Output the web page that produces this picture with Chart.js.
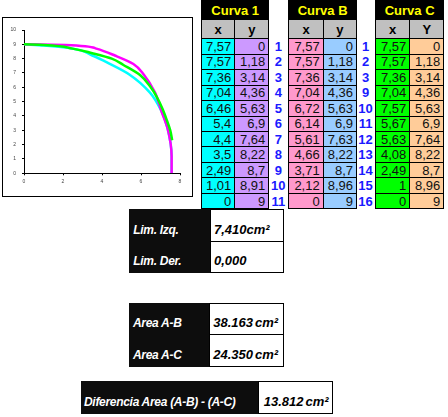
<!DOCTYPE html>
<html>
<head>
<meta charset="utf-8">
<script src="https://cdn.jsdelivr.net/npm/chart.js@4.4.1/dist/chart.umd.min.js"></script>
<style>
  html, body { margin: 0; padding: 0; background: #fff; }
  body { width: 448px; height: 417px; position: relative; overflow: hidden;
         font-family: "Liberation Sans Narrow", "Liberation Sans", Arial, sans-serif; }
  #chartBox { position: absolute; left: 2px; top: 17px; width: 191px; height: 180px;
              border: 1px solid #000; box-sizing: border-box; }
  #chart { position: absolute; left: 0; top: 0; }
  .cell { position: absolute; box-sizing: border-box; border: 1px solid #000;
          font-size: 13px; display: flex; align-items: center; white-space: nowrap; }
  .num { justify-content: flex-end; padding-right: 3px; color: #111; }
  .hd { justify-content: center; font-weight: bold; background: #000; color: #ffff00; font-size: 13px; }
  .sub { justify-content: center; font-weight: bold; background: #c0c0c0; color: #000; }
  .idx { position: absolute; color: #1a1aff; font-weight: bold; font-size: 13px;
         display: flex; align-items: center; justify-content: center; }
  .lab { position: absolute; box-sizing: border-box; background: #0d0d0d; color: #fff;
         font-weight: bold; font-style: italic; font-size: 12px; letter-spacing: -0.3px;
         display: flex; align-items: flex-end; padding-bottom: 5px; white-space: nowrap; }
  .val { position: absolute; box-sizing: border-box; border: 1px solid #000; background: #fff;
         color: #000; font-weight: bold; font-style: italic; font-size: 13px; display: flex;
         align-items: flex-end; padding-bottom: 4px; padding-left: 3px; white-space: nowrap; }
  .val span { margin-left: 2px; }
</style>
</head>
<body>
<div id="chartBox"></div>
<canvas id="chart" width="200" height="200"></canvas>
<div id="tables"></div>
<script>
// Tablas (valores de la hoja)
const curva1X = [7.57, 7.57, 7.36, 7.04, 6.46, 5.4, 4.4, 3.5, 2.49, 1.01, 0];
const curva1Y = [0, 1.18, 3.14, 4.36, 5.63, 6.9, 7.64, 8.22, 8.7, 8.91, 9];
const curvaBX = [7.57, 7.57, 7.36, 7.04, 6.72, 6.14, 5.61, 4.66, 3.71, 2.12, 0];
const curvaBY = [0, 1.18, 3.14, 4.36, 5.63, 6.9, 7.63, 8.22, 8.7, 8.96, 9];
const curvaCX = [7.57, 7.57, 7.36, 7.04, 7.57, 5.67, 5.63, 4.08, 2.49, 1, 0];
const curvaCY = [0, 1.18, 3.14, 4.36, 5.63, 6.9, 7.64, 8.22, 8.7, 8.96, 9];
const indice1 = [1, 2, 3, 4, 5, 6, 7, 8, 9, 10, 11];
const indiceB = [1, 2, 3, 9, 10, 11, 12, 13, 14, 15, 16];

// Curva verde tal como aparece en el grafico
const verdeX = [7.6, 7.5, 7.32, 7.1, 6.8, 6.5, 5.95, 5.1, 4.5, 3.5, 2.49, 1, 0];
const verdeY = [2.3, 3.0, 3.72, 4.5, 5.35, 6.0, 6.86, 7.56, 8.0, 8.38, 8.7, 8.96, 9];

// Resultados
const limIzq = '7,410';
const limDer = '0,000';
const areaAB = '38.163';
const areaAC = '24.350';
const diferencia = '13.812';

const xTicks = [0, 2, 4, 6, 8];

function pts(xs, ys) {
  return xs.map((x, i) => ({ x: x, y: ys[i] }));
}
function fmt(v) {
  return String(v).replace('.', ',');
}

const lineStyle = { showLine: true, indexAxis: 'y', cubicInterpolationMode: 'monotone', borderWidth: 2.5, pointRadius: 0 };

// Grafico
const ctx = document.getElementById('chart').getContext('2d');
new Chart(ctx, {
  type: 'scatter',
  data: {
    datasets: [
      Object.assign({ label: 'Curva C', data: pts(verdeX, verdeY), borderColor: '#00ff00' }, lineStyle),
      Object.assign({ label: 'Curva B', data: pts(curvaBX, curvaBY), borderColor: '#ff00ff' }, lineStyle),
      Object.assign({ label: 'Curva 1', data: pts(curva1X, curva1Y), borderColor: '#00ffff' }, lineStyle)
    ]
  },
  options: {
    responsive: false,
    animation: false,
    devicePixelRatio: 1,
    layout: { padding: { left: 0, top: 30, right: 20, bottom: 0 } },
    plugins: { legend: { display: false }, tooltip: { enabled: false } },
    scales: {
      x: {
        type: 'linear', min: 0, max: 8,
        afterBuildTicks: s => { s.ticks = xTicks.map(v => ({ value: v })); },
        afterFit: s => { s.height = 26.7; },
        ticks: { font: { size: 5, family: 'Liberation Sans' }, color: '#444', padding: 3, maxRotation: 0 },
        grid: { drawOnChartArea: false, drawTicks: true, tickLength: 2, color: '#000' },
        border: { display: true, color: '#000', width: 1 }
      },
      y: {
        type: 'linear', min: 0, max: 10,
        ticks: { stepSize: 1, font: { size: 5, family: 'Liberation Sans' }, color: '#444', padding: 6 },
        afterFit: s => { s.width = 24; },
        grid: { drawOnChartArea: false, drawTicks: true, tickLength: 2, color: '#000' },
        border: { display: true, color: '#000', width: 1 }
      }
    }
  }
});

// Tablas
const wrap = document.getElementById('tables');
function add(cls, x0, y0, x1, y1, text) {
  const d = document.createElement('div');
  d.className = cls;
  d.style.left = x0 + 'px';
  d.style.top = y0 + 'px';
  d.style.width = (x1 - x0 + 1) + 'px';
  d.style.height = (y1 - y0 + 1) + 'px';
  d.textContent = text;
  wrap.appendChild(d);
  return d;
}
function valor(x0, y0, x1, y1, num) {
  const d = add('val', x0, y0, x1, y1, num);
  const s = document.createElement('span');
  s.textContent = 'cm²';
  d.appendChild(s);
  return d;
}

const rowTop = 38.3, rowH = 15.45;
function tabla(titulo, yName, c0, c1, c2, xs, ys, colX, colY) {
  add('cell hd', c0, 0, c2, 19, titulo);
  add('cell sub', c0, 19, c1, rowTop, 'x');
  add('cell sub', c1, 19, c2, rowTop, yName);
  xs.forEach((v, i) => {
    const t = rowTop + i * rowH;
    add('cell num', c0, t, c1, t + rowH, fmt(v)).style.background = colX;
    add('cell num', c1, t, c2, t + rowH, fmt(ys[i])).style.background = colY;
  });
}
function indices(vals, x0, x1) {
  vals.forEach((v, i) => {
    const t = rowTop + i * rowH;
    add('idx', x0, t, x1, t + rowH, String(v));
  });
}

tabla('Curva 1', 'y', 201, 234.3, 268.3, curva1X, curva1Y, '#00ffff', '#cc99ff');
indices(indice1, 268.3, 287.3);
tabla('Curva B', 'y', 288.3, 322.7, 356, curvaBX, curvaBY, '#ff99cc', '#99ccff');
indices(indiceB, 356, 374);
tabla('Curva C', 'Y', 375, 409.3, 443.3, curvaCX, curvaCY, '#00ff00', '#ffcc99');

// Bloques inferiores
add('lab', 129.3, 209, 210, 240.7, 'Lim. Izq.').style.paddingLeft = '4px';
add('lab', 129.3, 240.7, 210, 271.7, 'Lim. Der.').style.paddingLeft = '4px';
const izq = add('val', 210, 209, 283.3, 240.7, limIzq);
const sIzq = document.createElement('span');
sIzq.textContent = 'cm²';
sIzq.style.marginLeft = '0';
izq.appendChild(sIzq);
add('val', 210, 240.7, 283.3, 271.7, limDer);

add('lab', 129, 303.3, 209.3, 334.3, 'Area A-B').style.paddingLeft = '4px';
add('lab', 129, 334.3, 209.3, 365.7, 'Area A-C').style.paddingLeft = '4px';
valor(209.3, 303.3, 283.3, 334.3, areaAB);
valor(209.3, 334.3, 283.3, 365.7, areaAC);

add('lab', 81, 381, 257.7, 412.7, 'Diferencia Area (A-B) - (A-C)').style.paddingLeft = '3px';
valor(257.7, 381, 331.7, 412.7, diferencia).style.paddingLeft = '5px';
</script>
</body>
</html>
